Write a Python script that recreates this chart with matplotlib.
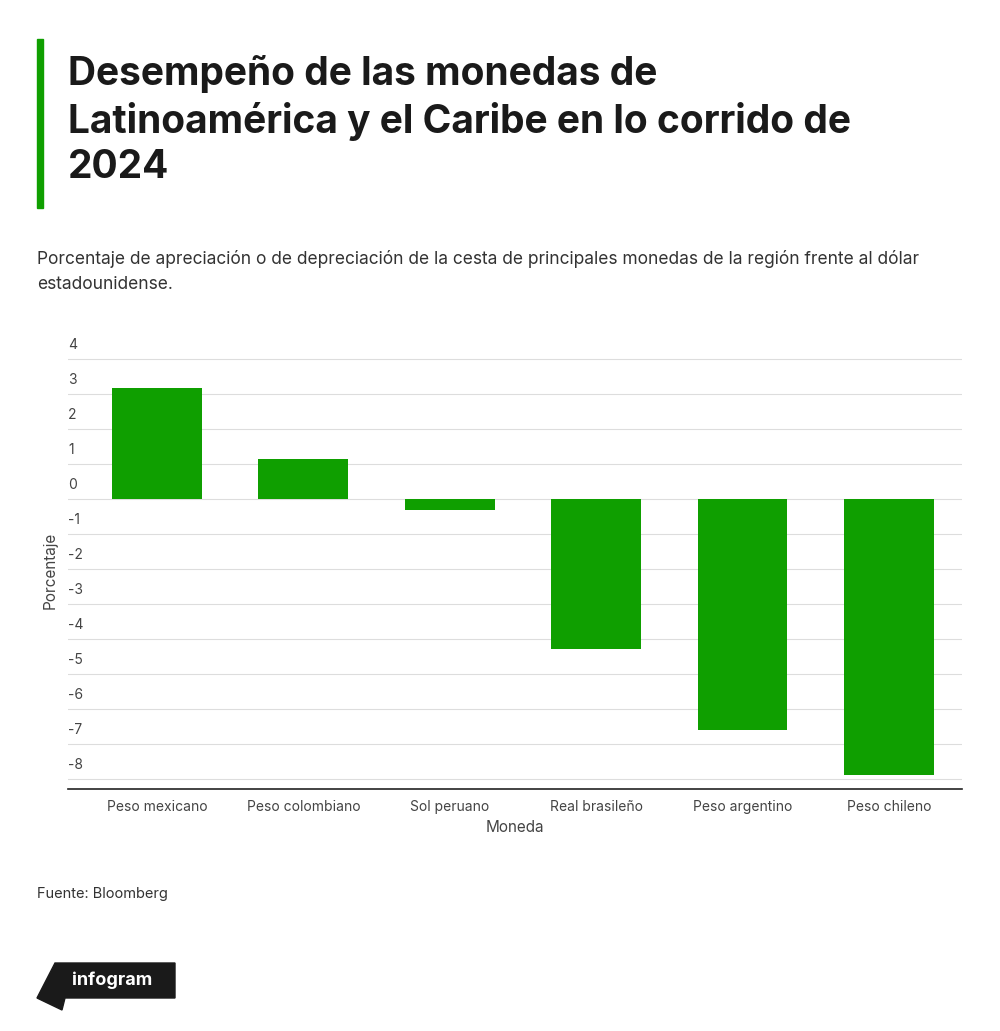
import matplotlib
matplotlib.use("Agg")
import matplotlib.pyplot as plt

monedas = ["Peso mexicano", "Peso colombiano", "Sol peruano", "Real brasileño", "Peso argentino", "Peso chileno"]
valores = [3.17, 1.14, -0.31, -4.31, -6.6, -7.91]
ticks = [4, 3, 2, 1, 0, -1, -2, -3, -4, -5, -6, -7, -8]

green = "#0f9f00"
plt.rcParams['font.family'] = ['Inter', 'DejaVu Sans']

fig = plt.figure(figsize=(10, 10.31), dpi=100)
W, H = 1000, 1031

# title block
fig.patches.append(plt.Rectangle((37 / W, 1 - 208 / H), 6 / W, 169 / H, color=green, transform=fig.transFigure))
fig.text(68 / W, 1 - 55 / H, "Desempeño de las monedas de\nLatinoamérica y el Caribe en lo corrido de\n2024",
         fontsize=28, fontweight="bold", va="top", ha="left", color="#1a1a1a", linespacing=1.28)
fig.text(37 / W, 1 - 250 / H, "Porcentaje de apreciación o de depreciación de la cesta de principales monedas de la región frente al dólar\nestadounidense.",
         fontsize=12.5, va="top", ha="left", color="#333333", linespacing=1.6)

ax = fig.add_axes([68 / W, 1 - 789 / H, (962 - 68) / W, (789 - 350) / H])
x = range(len(monedas))
ax.bar(x, valores, width=0.615, color=green, zorder=2)
left = -0.5 - 16 / 146.4
ax.set_xlim(left, len(monedas) - 0.5)
ax.set_ylim(-8.3, 4.25)
for t in ticks:
    ax.axhline(t, color="#dddddd", lw=0.8, zorder=1)
    ax.text(left, t + 0.2, str(t), ha="left", va="bottom", fontsize=10, color="#444444")
ax.set_yticks([])
ax.set_xticks(list(x))
ax.set_xticklabels(monedas, fontsize=10, color="#444444")
ax.tick_params(axis="x", length=0, pad=8)
for s in ["top", "right", "left"]:
    ax.spines[s].set_visible(False)
ax.spines["bottom"].set_color("#222222")
ax.spines["bottom"].set_linewidth(1.2)
ax.set_xlabel("Moneda", fontsize=11, color="#444444", labelpad=4)
fig.text(50 / W, 1 - 570 / H, "Porcentaje", rotation=90, fontsize=11, color="#444444", ha="center", va="center")

fig.text(37 / W, 1 - 894 / H, "Fuente: Bloomberg", fontsize=10.5, color="#333333", va="center")

# infogram badge
fig.patches.append(plt.Polygon([(55 / W, 1 - 963 / H), (175 / W, 1 - 963 / H), (175 / W, 1 - 998 / H),
                                (65 / W, 1 - 998 / H), (62 / W, 1 - 1010 / H), (37 / W, 1 - 998 / H)],
                               closed=True, color="#1a1a1a", transform=fig.transFigure))
fig.text(112 / W, 1 - 980 / H, "infogram", fontsize=13, fontweight="bold", color="white", ha="center", va="center")

fig.savefig("out.png", dpi=100, facecolor="white")
